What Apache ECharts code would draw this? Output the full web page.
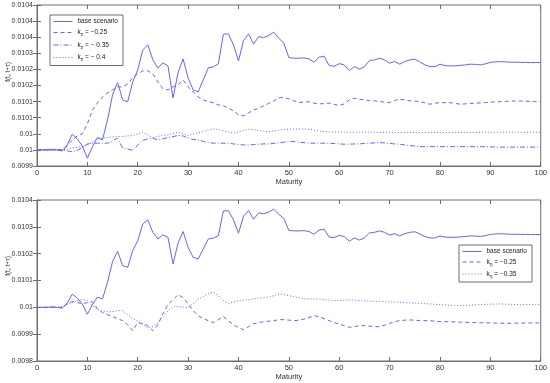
<!DOCTYPE html>
<html><head><meta charset="utf-8">
<script src="https://cdn.jsdelivr.net/npm/echarts@6/dist/echarts.min.js"></script>
<style>html,body{margin:0;padding:0;background:#fff}#c{width:550px;height:383px}</style>
</head><body><div id="c"></div><script>
const maturity = [0,1,2,3,4,5,6,7,8,9,10,11,12,13,14,15,16,17,18,19,20,21,22,23,24,25,26,27,28,29,30,31,32,33,34,35,36,37,38,39,40,41,42,43,44,45,46,47,48,49,50,51,52,53,54,55,56,57,58,59,60,61,62,63,64,65,66,67,68,69,70,71,72,73,74,75,76,77,78,79,80,81,82,83,84,85,86,87,88,89,90,91,92,93,94,95,96,97,98,99,100];

const baseScenario = [
0.0100000,0.0100000,0.0100000,0.0100016,0.0100000,0.0099969,0.0100155,0.0100488,0.0100342,0.0100124,
0.0099742,0.0100102,0.0100382,0.0100311,0.0100932,0.0101708,0.0102090,0.0101553,0.0101491,0.0102112,
0.0102485,0.0103106,0.0103261,0.0102795,0.0102547,0.0102702,0.0102609,0.0101615,0.0102392,0.0102826,
0.0102236,0.0101864,0.0101801,0.0102174,0.0102547,0.0102578,0.0102671,0.0103594,0.0103603,0.0103261,
0.0102764,0.0103395,0.0103603,0.0103283,0.0103519,0.0103488,0.0103550,0.0103656,0.0103469,0.0103314,
0.0102867,0.0102848,0.0102848,0.0102858,0.0102826,0.0102724,0.0102879,0.0102910,0.0102618,0.0102600,
0.0102680,0.0102640,0.0102463,0.0102587,0.0102507,0.0102587,0.0102774,0.0102795,0.0102848,0.0102795,
0.0102693,0.0102743,0.0102662,0.0102743,0.0102795,0.0102817,0.0102733,0.0102640,0.0102587,0.0102587,
0.0102662,0.0102618,0.0102609,0.0102609,0.0102625,0.0102640,0.0102662,0.0102656,0.0102640,0.0102671,
0.0102718,0.0102733,0.0102743,0.0102733,0.0102724,0.0102724,0.0102718,0.0102718,0.0102712,0.0102712,
0.0102712];

const kz025 = [
0.0100000,0.0100000,0.0100000,0.0100000,0.0100000,0.0100000,0.0100124,0.0100311,0.0100435,0.0100497,
0.0100808,0.0101242,0.0101460,0.0101646,0.0101770,0.0101864,0.0101957,0.0101957,0.0102050,0.0102236,
0.0102361,0.0102454,0.0102454,0.0102361,0.0102112,0.0101895,0.0101864,0.0101957,0.0102019,0.0102174,
0.0101957,0.0101801,0.0101646,0.0101553,0.0101506,0.0101460,0.0101398,0.0101367,0.0101305,0.0101211,
0.0101087,0.0101056,0.0101149,0.0101242,0.0101289,0.0101367,0.0101444,0.0101522,0.0101615,0.0101631,
0.0101584,0.0101522,0.0101469,0.0101491,0.0101491,0.0101451,0.0101429,0.0101438,0.0101451,0.0101413,
0.0101376,0.0101429,0.0101553,0.0101606,0.0101575,0.0101553,0.0101531,0.0101522,0.0101500,0.0101482,
0.0101469,0.0101537,0.0101575,0.0101553,0.0101522,0.0101513,0.0101500,0.0101460,0.0101419,0.0101451,
0.0101469,0.0101469,0.0101469,0.0101444,0.0101419,0.0101429,0.0101444,0.0101451,0.0101460,0.0101469,
0.0101482,0.0101491,0.0101500,0.0101506,0.0101516,0.0101522,0.0101516,0.0101513,0.0101506,0.0101500,
0.0101500];

const kz035 = [
0.0100000,0.0100000,0.0100000,0.0100000,0.0100000,0.0100000,0.0099969,0.0099947,0.0099984,0.0100078,
0.0100186,0.0100202,0.0100208,0.0100208,0.0100208,0.0100280,0.0100363,0.0100053,0.0100031,0.0099978,
0.0100155,0.0100295,0.0100342,0.0100363,0.0100311,0.0100342,0.0100388,0.0100413,0.0100450,0.0100435,
0.0100363,0.0100326,0.0100311,0.0100264,0.0100227,0.0100208,0.0100208,0.0100208,0.0100208,0.0100186,
0.0100171,0.0100155,0.0100155,0.0100165,0.0100177,0.0100186,0.0100186,0.0100202,0.0100217,0.0100239,
0.0100258,0.0100258,0.0100239,0.0100224,0.0100208,0.0100208,0.0100208,0.0100208,0.0100208,0.0100196,
0.0100186,0.0100177,0.0100177,0.0100186,0.0100186,0.0100202,0.0100208,0.0100217,0.0100227,0.0100217,
0.0100202,0.0100186,0.0100177,0.0100155,0.0100134,0.0100118,0.0100102,0.0100102,0.0100102,0.0100102,
0.0100102,0.0100102,0.0100102,0.0100100,0.0100100,0.0100102,0.0100102,0.0100100,0.0100098,0.0100098,
0.0100095,0.0100090,0.0100087,0.0100087,0.0100087,0.0100087,0.0100087,0.0100087,0.0100087,0.0100087,
0.0100087];

const kz040 = [
0.0100000,0.0100000,0.0100000,0.0100000,0.0100000,0.0100000,0.0100031,0.0100062,0.0100078,0.0100109,
0.0100155,0.0100248,0.0100342,0.0100373,0.0100388,0.0100404,0.0100413,0.0100419,0.0100435,0.0100444,
0.0100497,0.0100550,0.0100466,0.0100382,0.0100419,0.0100450,0.0100466,0.0100512,0.0100550,0.0100497,
0.0100435,0.0100497,0.0100528,0.0100575,0.0100621,0.0100652,0.0100637,0.0100599,0.0100559,0.0100519,
0.0100559,0.0100606,0.0100643,0.0100627,0.0100606,0.0100584,0.0100568,0.0100590,0.0100612,0.0100631,
0.0100643,0.0100646,0.0100649,0.0100652,0.0100637,0.0100612,0.0100584,0.0100568,0.0100559,0.0100559,
0.0100553,0.0100550,0.0100550,0.0100550,0.0100550,0.0100550,0.0100550,0.0100550,0.0100544,0.0100544,
0.0100544,0.0100537,0.0100537,0.0100537,0.0100537,0.0100537,0.0100537,0.0100537,0.0100537,0.0100537,
0.0100537,0.0100537,0.0100537,0.0100537,0.0100537,0.0100537,0.0100537,0.0100547,0.0100547,0.0100547,
0.0100547,0.0100547,0.0100547,0.0100547,0.0100547,0.0100547,0.0100547,0.0100547,0.0100547,0.0100547,
0.0100547];

const keta025 = [
0.0100000,0.0100000,0.0100000,0.0100000,0.0100000,0.0099989,0.0100138,0.0100213,0.0100175,0.0100138,
0.0100175,0.0100213,0.0099951,0.0099802,0.0099728,0.0099653,0.0099578,0.0099504,0.0099355,0.0099131,
0.0099429,0.0099392,0.0099317,0.0099131,0.0099355,0.0099765,0.0100101,0.0100287,0.0100474,0.0100362,
0.0100138,0.0099877,0.0099690,0.0099578,0.0099504,0.0099429,0.0099541,0.0099653,0.0099504,0.0099355,
0.0099243,0.0099168,0.0099280,0.0099392,0.0099429,0.0099466,0.0099485,0.0099504,0.0099541,0.0099541,
0.0099522,0.0099504,0.0099522,0.0099560,0.0099616,0.0099690,0.0099653,0.0099578,0.0099504,0.0099429,
0.0099381,0.0099317,0.0099254,0.0099280,0.0099317,0.0099317,0.0099299,0.0099280,0.0099280,0.0099336,
0.0099403,0.0099466,0.0099504,0.0099522,0.0099530,0.0099522,0.0099504,0.0099504,0.0099504,0.0099485,
0.0099466,0.0099466,0.0099466,0.0099455,0.0099448,0.0099440,0.0099440,0.0099429,0.0099429,0.0099422,
0.0099418,0.0099410,0.0099410,0.0099403,0.0099403,0.0099410,0.0099410,0.0099418,0.0099418,0.0099418,
0.0099418];

const keta035 = [
0.0100000,0.0100000,0.0100000,0.0100000,0.0100000,0.0100026,0.0100101,0.0100175,0.0100250,0.0100287,
0.0100250,0.0100063,0.0099914,0.0099840,0.0099840,0.0099840,0.0099877,0.0099877,0.0099728,0.0099578,
0.0099504,0.0099355,0.0099243,0.0099280,0.0099429,0.0099653,0.0099877,0.0100026,0.0100026,0.0100007,
0.0099989,0.0100138,0.0100306,0.0100399,0.0100511,0.0100560,0.0100437,0.0100250,0.0100138,0.0100194,
0.0100250,0.0100269,0.0100287,0.0100313,0.0100343,0.0100362,0.0100381,0.0100437,0.0100500,0.0100474,
0.0100437,0.0100399,0.0100362,0.0100313,0.0100313,0.0100313,0.0100313,0.0100287,0.0100269,0.0100250,
0.0100250,0.0100269,0.0100276,0.0100269,0.0100250,0.0100239,0.0100231,0.0100224,0.0100224,0.0100213,
0.0100205,0.0100194,0.0100187,0.0100175,0.0100168,0.0100157,0.0100149,0.0100138,0.0100127,0.0100112,
0.0100101,0.0100090,0.0100078,0.0100071,0.0100063,0.0100075,0.0100082,0.0100093,0.0100101,0.0100108,
0.0100119,0.0100123,0.0100127,0.0100119,0.0100112,0.0100108,0.0100101,0.0100101,0.0100101,0.0100101,
0.0100101];

const xTickLabels = ['0','10','20','30','40','50','60','70','80','90','100'];
const topYTickLabels = ['0.0099','0.01','0.01','0.0101','0.0101','0.0102','0.0102','0.0103','0.0104','0.0104','0.0104'];
const bottomYTickLabels = ['0.0098','0.0099','0.01','0.0101','0.0102','0.0103','0.0104'];
const topYRange = {min: 0.00995, max: 0.01045, interval: 0.00005};
const bottomYRange = {min: 0.0098, max: 0.0104, interval: 0.0001};

const legendText = {
  base_top: '{t|base scenario}',
  kz025: '{t|k}{s|z}{t| = \u22120.25}',
  kz035: '{t|k}{s|z}{t| = \u2212 0.35}',
  kz040: '{t|k}{s|z}{t| = \u2212 0.4}',
  base_bot: '{t|base scenario}',
  keta025: '{t|k}{s|\u03b7}{t| = \u22120.25}',
  keta035: '{t|k}{s|\u03b7}{t| = \u22120.35}'
};

const FONT = '"Liberation Sans", Arial, Helvetica, sans-serif';
const LINE = '#6464ff';
const AXIS = '#6e6e6e';
const TXT = '#333333';

function pairs(ys) { return maturity.map((m, i) => [m, ys[i]]); }

function xAxes(gridIndex) {
  return [{
    type: 'value', gridIndex, min: 0, max: 100, interval: 10, position: 'bottom',
    axisLine: {show: true, onZero: false, lineStyle: {color: AXIS, width: 1}},
    axisTick: {show: true, inside: true, length: 4, lineStyle: {color: AXIS}},
    axisLabel: {show: true, fontSize: 7.5, color: TXT, fontFamily: FONT, margin: 3,
      formatter: v => xTickLabels[Math.round(v / 10)]},
    splitLine: {show: false},
    name: 'Maturity', nameLocation: 'middle', nameGap: 12,
    nameTextStyle: {fontSize: 7.5, color: TXT, fontFamily: FONT}
  }, {
    type: 'value', gridIndex, min: 0, max: 100, interval: 10, position: 'top',
    axisLine: {show: false},
    axisTick: {show: true, inside: true, length: 4, lineStyle: {color: AXIS}},
    axisLabel: {show: false}, splitLine: {show: false}
  }];
}
function yAxes(gridIndex, r, labels) {
  return [{
    type: 'value', gridIndex, min: r.min, max: r.max, interval: r.interval, position: 'left',
    axisLine: {show: true, onZero: false, lineStyle: {color: AXIS, width: 1}},
    axisTick: {show: true, inside: true, length: 4, lineStyle: {color: AXIS}},
    axisLabel: {show: true, fontSize: 7, color: TXT, fontFamily: FONT, margin: 4,
      formatter: v => labels[Math.round((v - r.min) / r.interval)]},
    splitLine: {show: false}
  }, {
    type: 'value', gridIndex, min: r.min, max: r.max, interval: r.interval, position: 'right',
    axisLine: {show: false},
    axisTick: {show: true, inside: true, length: 4, lineStyle: {color: AXIS}},
    axisLabel: {show: false}, splitLine: {show: false}
  }];
}

function line(id, data, xi, yi, type) {
  return {
    type: 'line', name: id, data: pairs(data), xAxisIndex: xi, yAxisIndex: yi,
    symbol: 'none', silent: true, animation: false,
    lineStyle: {color: LINE, width: 1, type: type},
    itemStyle: {color: LINE}
  };
}

const legendRich = {
  t: {fontSize: 6.5, color: '#222', fontFamily: FONT},
  s: {fontSize: 5, color: '#222', fontFamily: FONT, padding: [5, 0, 0, 0]}
};
function legendBox(ids, left, top, gap) {
  return {
    show: true, orient: 'vertical', left, top, data: ids,
    itemWidth: 19, itemHeight: 8, itemGap: gap, padding: [3, 5, 3, 3],
    borderColor: AXIS, borderWidth: 1, backgroundColor: '#fff', borderRadius: 0,
    selectedMode: false,
    itemStyle: {opacity: 0},
    lineStyle: {width: 1},
    formatter: name => legendText[name],
    textStyle: {fontSize: 6.5, color: '#222', fontFamily: FONT, rich: legendRich}
  };
}

const chart = echarts.init(document.getElementById('c'), null, {renderer: 'canvas'});
chart.setOption({
  animation: false,
  backgroundColor: '#fff',
  grid: [
    {left: 37, right: 9, top: 5, height: 161, show: true, borderColor: AXIS, borderWidth: 1, backgroundColor: '#fff'},
    {left: 37, right: 9, top: 200, height: 161, show: true, borderColor: AXIS, borderWidth: 1, backgroundColor: '#fff'}
  ],
  xAxis: [...xAxes(0), ...xAxes(1)],
  yAxis: [...yAxes(0, topYRange, topYTickLabels), ...yAxes(1, bottomYRange, bottomYTickLabels)],
  legend: [
    legendBox(['base_top', 'kz025', 'kz035', 'kz040'], 50, 15, 4),
    legendBox(['base_bot', 'keta025', 'keta035'], 459, 245, 3.5)
  ],
  graphic: [
    {type: 'text', x: 8, y: 72, rotation: Math.PI / 2,
      style: {text: 'f(t, t+\u03c4)', fontSize: 6.5, fill: TXT, fontFamily: FONT, align: 'center', verticalAlign: 'middle'}},
    {type: 'text', x: 8, y: 266, rotation: Math.PI / 2,
      style: {text: 'f(t, t+\u03c4)', fontSize: 6.5, fill: TXT, fontFamily: FONT, align: 'center', verticalAlign: 'middle'}}
  ],
  series: [
    line('base_top', baseScenario, 0, 0, 'solid'),
    line('kz025', kz025, 0, 0, [4, 3]),
    line('kz035', kz035, 0, 0, [5, 2, 1, 2]),
    line('kz040', kz040, 0, 0, [1, 2]),
    line('base_bot', baseScenario, 2, 2, 'solid'),
    line('keta025', keta025, 2, 2, [4, 3]),
    line('keta035', keta035, 2, 2, [1, 2])
  ]
});
</script></body></html>
